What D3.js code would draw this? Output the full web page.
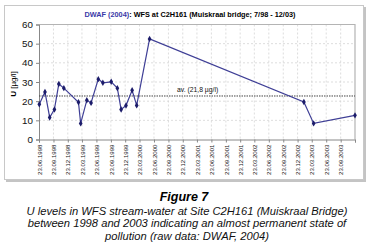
<!DOCTYPE html>
<html>
<head>
<meta charset="utf-8">
<script src="https://cdn.jsdelivr.net/npm/d3@7"></script>
<style>
  body { margin: 0; background: #fff; }
  svg { display: block; font-family: Arial, "Liberation Sans", sans-serif; }
</style>
</head>
<body>
<svg id="chart" width="369" height="251"></svg>
<script>
// sampling dates and U concentrations (µg/l)
const sampleDates = [
  "25.06.1998", "31.07.1998", "30.08.1998", "29.09.1998", "27.10.1998", "28.11.1998",
  "01.03.1999", "15.03.1999", "23.04.1999", "20.05.1999", "05.07.1999", "03.08.1999",
  "25.09.1999", "03.11.1999", "27.11.1999", "28.12.1999", "05.02.2000", "05.03.2000",
  "26.05.2000", "01.02.2003", "04.04.2003", "23.12.2003"
];
const uValues = [
  18.4, 24.8, 11.5, 15.7, 29.0, 26.8,
  19.4, 8.4, 20.5, 19.1, 31.5, 29.6,
  30.1, 26.8, 15.7, 17.7, 25.7, 17.8,
  52.5, 19.6, 8.4, 12.6
];
const tickLabels = [
  "23.06.1998", "23.09.1998", "23.12.1998", "23.03.1999", "23.06.1999", "23.09.1999",
  "23.12.1999", "23.03.2000", "23.06.2000", "23.09.2000", "23.12.2000", "23.03.2001",
  "23.06.2001", "23.09.2001", "23.12.2001", "23.03.2002", "23.06.2002", "23.09.2002",
  "23.12.2002", "23.03.2003", "23.06.2003", "23.09.2003"
];
const axisEnd = "23.12.2003";
const yTicks = [0, 10, 20, 30, 40, 50, 60];
const avgLevel = 22.7;          // where the dotted average line sits on the plot
const avgLabel = "av. (21,8 µg/l)";
const captionLines = [
  "U levels in WFS stream-water at Site C2H161 (Muiskraal Bridge)",
  "between 1998 and 2003 indicating an almost permanent state of",
  "pollution (raw data: DWAF, 2004)"
];

const parse = d3.timeParse("%d.%m.%Y");
const data = sampleDates.map((d, i) => ({ date: parse(d), value: uValues[i] }));
const tickDates = tickLabels.map(parse);

const svg = d3.select("#chart");
const plot = { left: 39, right: 355, top: 24.5, bottom: 139.5 };

const x = d3.scaleTime()
  .domain([tickDates[0], parse(axisEnd)])
  .range([plot.left, plot.right]);
const y = d3.scaleLinear()
  .domain([0, 60])
  .range([plot.bottom, plot.top]);

// outer frame with the grey shadow on the right / bottom
svg.append("rect")
  .attr("x", 6).attr("y", 7).attr("width", 360).attr("height", 175)
  .attr("fill", "#c4c4c4");
svg.append("rect")
  .attr("x", 4.5).attr("y", 5.5).attr("width", 359).attr("height", 174)
  .attr("fill", "#fff").attr("stroke", "#c8c8c8");

// title
const title = svg.append("text")
  .attr("x", 190).attr("y", 17)
  .attr("text-anchor", "middle")
  .attr("font-size", 7.3).attr("font-weight", "bold");
title.append("tspan").attr("fill", "#3a3aa8").text("DWAF (2004)");
title.append("tspan").attr("fill", "#000").text(": WFS at C2H161 (Muiskraal bridge; 7/98 - 12/03)");

// gridlines
const grid = svg.append("g").attr("stroke", "#d4d4d4").attr("stroke-dasharray", "2,2").attr("stroke-width", 0.8);
grid.selectAll(".gy").data(yTicks.slice(1, -1)).enter().append("line")
  .attr("x1", plot.left).attr("x2", plot.right)
  .attr("y1", d => y(d)).attr("y2", d => y(d));
grid.selectAll(".gx").data(tickDates.slice(1)).enter().append("line")
  .attr("x1", d => x(d)).attr("x2", d => x(d))
  .attr("y1", plot.top).attr("y2", plot.bottom);

// plot area border (top / right)
svg.append("path")
  .attr("d", `M${plot.left},${plot.top}H${plot.right}V${plot.bottom}`)
  .attr("fill", "none").attr("stroke", "#b4b4b4").attr("stroke-width", 1.2);

// y axis
const yAxis = svg.append("g")
  .attr("transform", `translate(${plot.left},0)`)
  .call(d3.axisLeft(y).tickValues(yTicks).tickSize(3).tickPadding(3));
yAxis.select(".domain").attr("stroke", "#888");
yAxis.selectAll(".tick line").attr("stroke", "#888");
yAxis.selectAll("text").attr("font-size", 9.8).attr("fill", "#111").attr("font-family", "Arial, 'Liberation Sans', sans-serif");

// x axis
const xAxis = svg.append("g")
  .attr("transform", `translate(0,${plot.bottom})`)
  .call(d3.axisBottom(x).tickValues(tickDates.concat([parse(axisEnd)])).tickSize(3)
    .tickFormat((d, i) => i < tickLabels.length ? tickLabels[i] : ""));
xAxis.select(".domain").attr("stroke", "#888");
xAxis.selectAll(".tick line").attr("stroke", "#888");
xAxis.selectAll("text")
  .attr("font-size", 6.1).attr("fill", "#222")
  .attr("font-family", "Arial, 'Liberation Sans', sans-serif")
  .attr("text-anchor", "end")
  .attr("transform", "rotate(-90)")
  .attr("x", -5).attr("y", 0).attr("dy", "0.35em");

// y axis title
const yTitle = svg.append("text")
  .attr("transform", "translate(16,84) rotate(-90)")
  .attr("text-anchor", "middle").attr("font-size", 8);
yTitle.append("tspan").attr("font-weight", "bold").text("U ");
yTitle.append("tspan").text("[µg/l]");

// average line
svg.append("line")
  .attr("x1", plot.left).attr("x2", plot.right)
  .attr("y1", y(avgLevel)).attr("y2", y(avgLevel))
  .attr("stroke", "#444").attr("stroke-width", 1).attr("stroke-dasharray", "1.5,1");
svg.append("text")
  .attr("x", 177).attr("y", y(avgLevel) - 4)
  .attr("font-size", 6.8).attr("fill", "#111")
  .text(avgLabel);

// series
const line = d3.line().x(d => x(d.date)).y(d => y(d.value));
svg.append("path").datum(data)
  .attr("d", line)
  .attr("fill", "none").attr("stroke", "#3f3f96").attr("stroke-width", 1.2);
svg.selectAll(".pt").data(data).enter().append("path")
  .attr("transform", d => `translate(${x(d.date)},${y(d.value)})`)
  .attr("d", d3.symbol(d3.symbolDiamond, 12))
  .attr("fill", "#1c1c6a");

// caption
svg.append("text")
  .attr("x", 184).attr("y", 201)
  .attr("text-anchor", "middle")
  .attr("font-size", 12.5).attr("font-weight", "bold").attr("font-style", "italic")
  .text("Figure 7");
svg.selectAll(".cap").data(captionLines).enter().append("text")
  .attr("x", 187).attr("y", (d, i) => 214.5 + i * 12.6)
  .attr("text-anchor", "middle")
  .attr("font-size", 11.2).attr("font-style", "italic").attr("fill", "#111")
  .text(d => d);
</script>
</body>
</html>
